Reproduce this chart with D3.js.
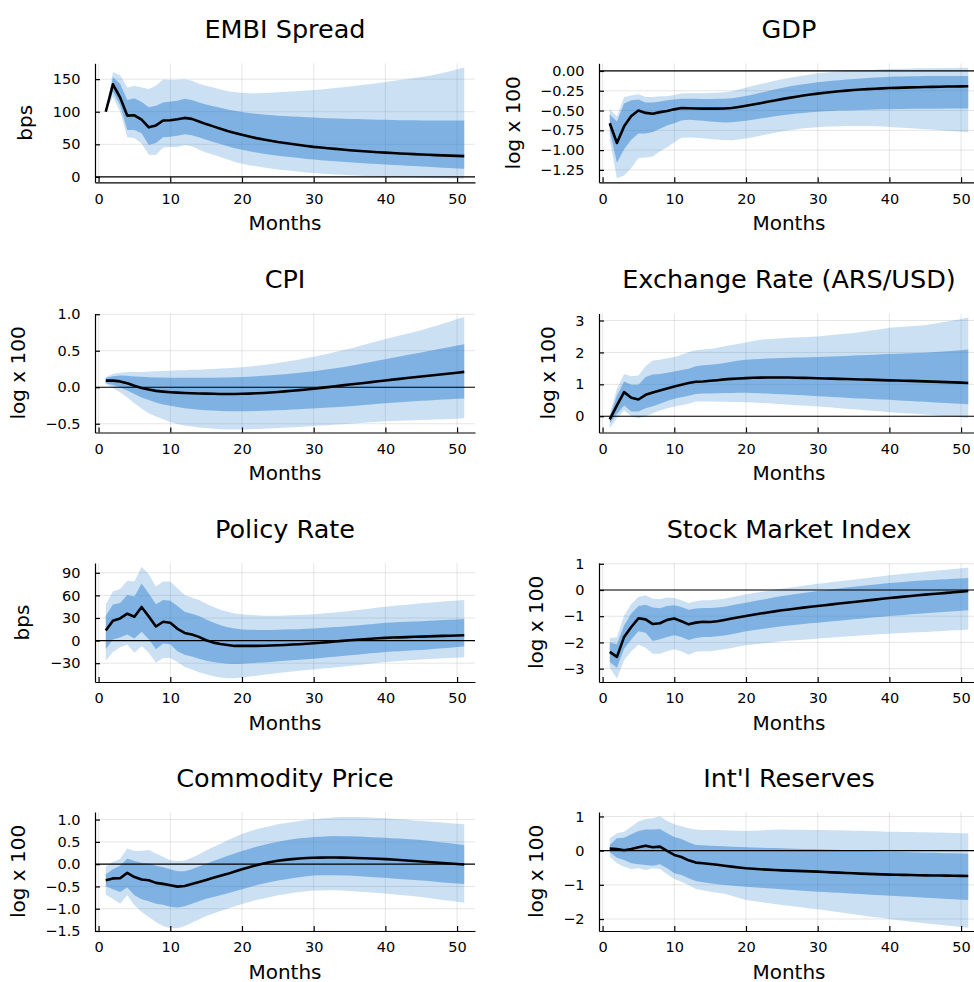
<!DOCTYPE html>
<html>
<head>
<meta charset="utf-8">
<script src="https://cdn.jsdelivr.net/npm/d3@7"></script>
<style>
  html, body { margin: 0; padding: 0; background: #fff; }
  svg { display: block; }
</style>
</head>
<body>
<svg id="chart" width="974" height="982"></svg>
<script>
// Horizon (months after the shock)
const months = [1,2,3,4,5,6,7,8,9,10,11,12,13,14,15,16,17,18,19,20,21,22,23,24,25,26,27,28,29,30,31,32,33,34,35,36,37,38,39,40,41,42,43,44,45,46,47,48,49,50,51];

const titles = ["EMBI Spread", "GDP", "CPI", "Exchange Rate (ARS/USD)", "Policy Rate", "Stock Market Index", "Commodity Price", "Int'l Reserves"];
const yLabels = ["bps", "log x 100", "log x 100", "log x 100", "bps", "log x 100", "log x 100", "log x 100"];
const xLabel = "Months";
const xTickValues = [0, 10, 20, 30, 40, 50];
const yTickValues = [
  [0, 50, 100, 150],
  [-1.25, -1, -0.75, -0.5, -0.25, 0],
  [-0.5, 0, 0.5, 1],
  [0, 1, 2, 3],
  [-30, 0, 30, 60, 90],
  [-3, -2, -1, 0, 1],
  [-1.5, -1, -0.5, 0, 0.5, 1],
  [-2, -1, 0, 1]
];
const yTickDecimals = [0, 2, 1, 0, 0, 0, 1, 0];
const yLimits = [[-8.3, 174.3], [-1.407, 0.097], [-0.62, 1.01], [-0.51, 3.22], [-55, 103], [-3.51, 1.03], [-1.5, 1.17], [-2.35, 1.13]];

// EMBI spread (bps)
const embiMedian = [100,142,122,94,94.5,88,76,79,86.5,87,88.5,90.5,89,85,81,77.5,74,70.5,67.5,64.5,62,59.5,57.5,55.5,53.5,52,50.5,49,47.5,46,45,44,43,42,41,40.2,39.4,38.6,37.9,37.2,36.6,36,35.4,34.9,34.4,33.9,33.4,33,32.6,32.2,31.8];
const embiInnerHigh = [100,153,143,118,120.5,115,107,109,114,115.5,117,120,118,114,111,108.5,106,103.5,101.5,99.5,98,96.8,95.8,94.8,94,93.3,92.7,92.1,91.5,91,90.5,90.1,89.7,89.3,89,88.7,88.4,88.1,87.8,87.5,87.3,87.1,86.9,86.8,86.7,86.6,86.5,86.5,86.4,86.4,86.4];
const embiInnerLow = [100,131,110,72,72,67,49,52,61,61.5,63,65.5,64,61,57,53.5,50.5,47,44,41.5,39.5,37.5,35.7,34,32.5,31.2,30,28.8,27.6,26.5,25.6,24.8,24,23.2,22.4,21.7,21,20.3,19.6,19,18.4,17.8,17.2,16.6,16,15.4,14.8,14.2,13.6,13,12.4];
const embiOuterHigh = [100,161,156,137,140,137,135,140,149.5,148.5,149,150,147.5,143,140,137,134,131.5,130,129,128.5,128.5,128.8,129.3,130,130.6,131.2,131.9,132.5,133.2,134.2,135.3,136.4,137.6,138.8,140,141.3,142.6,144,145.5,147,148.5,150,151.6,153.2,155,157.2,159.6,162.2,165,168];
const embiOuterLow = [100,123,100,61,59.5,51,34,33.5,45,46,46,49,47,41.5,37.5,34,30.5,26.5,23,20,18,16.2,14.5,12.8,11.2,10,8.9,7.8,6.8,5.9,5.1,4.4,3.7,3.1,2.5,2,1.5,1,0.6,0.2,-0.2,-0.5,-0.8,-1.1,-1.4,-1.7,-2,-2.2,-2.4,-2.6,-2.8];

// GDP (log x 100)
const gdpMedian = [-0.66,-0.91,-0.70,-0.57,-0.50,-0.53,-0.54,-0.52,-0.505,-0.485,-0.468,-0.472,-0.475,-0.476,-0.476,-0.476,-0.474,-0.468,-0.455,-0.44,-0.424,-0.407,-0.39,-0.373,-0.356,-0.34,-0.325,-0.311,-0.298,-0.286,-0.275,-0.265,-0.256,-0.248,-0.241,-0.235,-0.229,-0.224,-0.22,-0.216,-0.213,-0.21,-0.207,-0.205,-0.203,-0.201,-0.199,-0.197,-0.196,-0.195,-0.194];
const gdpInnerHigh = [-0.55,-0.64,-0.41,-0.37,-0.36,-0.40,-0.40,-0.385,-0.37,-0.36,-0.35,-0.35,-0.352,-0.353,-0.353,-0.352,-0.35,-0.344,-0.332,-0.316,-0.297,-0.276,-0.255,-0.234,-0.215,-0.197,-0.181,-0.167,-0.155,-0.144,-0.134,-0.125,-0.116,-0.108,-0.1,-0.094,-0.088,-0.083,-0.078,-0.074,-0.071,-0.069,-0.067,-0.066,-0.065,-0.064,-0.064,-0.064,-0.064,-0.064,-0.064];
const gdpInnerLow = [-0.76,-1.16,-0.99,-0.87,-0.79,-0.79,-0.77,-0.73,-0.69,-0.66,-0.625,-0.615,-0.622,-0.63,-0.638,-0.645,-0.65,-0.648,-0.64,-0.63,-0.616,-0.601,-0.587,-0.573,-0.56,-0.549,-0.539,-0.53,-0.522,-0.515,-0.51,-0.505,-0.501,-0.498,-0.495,-0.492,-0.49,-0.487,-0.485,-0.483,-0.481,-0.48,-0.479,-0.478,-0.477,-0.476,-0.476,-0.475,-0.475,-0.475,-0.475];
const gdpOuterHigh = [-0.48,-0.575,-0.33,-0.31,-0.295,-0.33,-0.33,-0.32,-0.32,-0.305,-0.285,-0.28,-0.28,-0.28,-0.279,-0.276,-0.27,-0.255,-0.234,-0.21,-0.188,-0.166,-0.145,-0.125,-0.105,-0.088,-0.072,-0.057,-0.043,-0.03,-0.021,-0.013,-0.006,0.0,0.005,0.009,0.013,0.017,0.021,0.025,0.027,0.029,0.031,0.033,0.035,0.036,0.037,0.038,0.039,0.04,0.04];
const gdpOuterLow = [-0.87,-1.355,-1.32,-1.225,-1.10,-1.095,-1.08,-1.015,-0.965,-0.90,-0.845,-0.84,-0.845,-0.85,-0.86,-0.867,-0.873,-0.875,-0.866,-0.855,-0.837,-0.818,-0.8,-0.782,-0.765,-0.75,-0.737,-0.725,-0.716,-0.71,-0.705,-0.701,-0.698,-0.696,-0.695,-0.695,-0.696,-0.699,-0.703,-0.708,-0.713,-0.718,-0.723,-0.729,-0.735,-0.741,-0.748,-0.755,-0.762,-0.769,-0.776];

// CPI (log x 100)
const cpiMedian = [0.09,0.09,0.08,0.055,0.02,-0.01,-0.03,-0.05,-0.06,-0.068,-0.074,-0.079,-0.083,-0.086,-0.088,-0.09,-0.092,-0.093,-0.092,-0.09,-0.087,-0.083,-0.078,-0.072,-0.065,-0.057,-0.048,-0.039,-0.03,-0.02,-0.009,0.002,0.013,0.025,0.037,0.048,0.059,0.07,0.081,0.093,0.104,0.115,0.126,0.137,0.148,0.158,0.168,0.179,0.189,0.199,0.21];
const cpiInnerHigh = [0.125,0.15,0.16,0.157,0.148,0.143,0.138,0.134,0.132,0.13,0.129,0.129,0.129,0.13,0.13,0.131,0.133,0.135,0.137,0.14,0.145,0.15,0.156,0.163,0.17,0.179,0.188,0.198,0.209,0.22,0.233,0.246,0.26,0.275,0.29,0.308,0.327,0.346,0.365,0.385,0.403,0.421,0.44,0.458,0.477,0.496,0.514,0.533,0.552,0.571,0.59];
const cpiInnerLow = [0.055,0.03,-0.005,-0.046,-0.093,-0.14,-0.176,-0.21,-0.235,-0.255,-0.272,-0.287,-0.299,-0.308,-0.315,-0.32,-0.325,-0.328,-0.33,-0.33,-0.329,-0.327,-0.323,-0.319,-0.315,-0.311,-0.306,-0.3,-0.295,-0.29,-0.285,-0.279,-0.273,-0.267,-0.26,-0.252,-0.243,-0.235,-0.226,-0.218,-0.211,-0.205,-0.198,-0.192,-0.185,-0.18,-0.174,-0.169,-0.163,-0.158,-0.153];
const cpiOuterHigh = [0.14,0.185,0.2,0.21,0.21,0.21,0.215,0.22,0.223,0.227,0.231,0.234,0.238,0.241,0.245,0.25,0.255,0.261,0.267,0.273,0.283,0.294,0.306,0.319,0.333,0.348,0.364,0.381,0.399,0.417,0.438,0.46,0.482,0.505,0.528,0.554,0.581,0.608,0.635,0.662,0.686,0.709,0.733,0.756,0.78,0.81,0.84,0.871,0.902,0.933,0.963];
const cpiOuterLow = [0.046,-0.01,-0.07,-0.14,-0.218,-0.29,-0.356,-0.4,-0.44,-0.477,-0.502,-0.523,-0.538,-0.55,-0.56,-0.568,-0.575,-0.58,-0.58,-0.58,-0.577,-0.573,-0.569,-0.564,-0.56,-0.555,-0.549,-0.543,-0.538,-0.532,-0.525,-0.519,-0.512,-0.506,-0.5,-0.493,-0.487,-0.48,-0.473,-0.467,-0.463,-0.46,-0.456,-0.453,-0.45,-0.446,-0.442,-0.438,-0.434,-0.43,-0.426];

// Exchange rate ARS/USD (log x 100)
const fxMedian = [-0.1,0.34,0.755,0.58,0.525,0.67,0.745,0.81,0.87,0.935,0.985,1.04,1.08,1.09,1.11,1.13,1.155,1.17,1.185,1.195,1.205,1.21,1.215,1.215,1.215,1.212,1.208,1.203,1.197,1.19,1.184,1.178,1.172,1.166,1.16,1.153,1.146,1.139,1.132,1.125,1.119,1.113,1.107,1.1,1.093,1.085,1.077,1.069,1.061,1.052,1.043];
const fxInnerHigh = [-0.02,0.65,1.09,0.985,0.985,1.23,1.31,1.32,1.36,1.405,1.45,1.49,1.57,1.6,1.615,1.64,1.67,1.71,1.745,1.77,1.785,1.797,1.806,1.815,1.825,1.831,1.837,1.843,1.849,1.855,1.864,1.873,1.882,1.891,1.9,1.91,1.92,1.93,1.94,1.95,1.958,1.966,1.974,1.982,1.99,2.005,2.02,2.035,2.05,2.07,2.09];
const fxInnerLow = [-0.22,0.07,0.335,0.147,0.147,0.25,0.315,0.39,0.48,0.545,0.595,0.64,0.70,0.71,0.715,0.72,0.725,0.73,0.733,0.735,0.727,0.718,0.709,0.7,0.69,0.678,0.666,0.654,0.642,0.63,0.617,0.605,0.592,0.58,0.567,0.556,0.546,0.535,0.525,0.514,0.501,0.488,0.476,0.463,0.45,0.438,0.426,0.414,0.402,0.39,0.378];
const fxOuterHigh = [0.07,0.86,1.32,1.25,1.28,1.57,1.75,1.77,1.815,1.857,1.93,2.01,2.067,2.09,2.11,2.15,2.19,2.23,2.27,2.31,2.355,2.40,2.415,2.43,2.445,2.456,2.467,2.478,2.489,2.5,2.522,2.544,2.566,2.588,2.61,2.642,2.674,2.706,2.738,2.77,2.786,2.802,2.818,2.834,2.85,2.89,2.93,2.97,3.01,3.05,3.095];
const fxOuterLow = [-0.38,-0.06,0.18,0.0,-0.063,0.0,0.094,0.18,0.25,0.304,0.347,0.39,0.46,0.46,0.46,0.456,0.452,0.448,0.444,0.44,0.428,0.415,0.403,0.39,0.378,0.363,0.348,0.334,0.319,0.304,0.287,0.271,0.254,0.237,0.22,0.201,0.182,0.164,0.145,0.126,0.111,0.096,0.082,0.067,0.052,0.035,0.018,0.0,-0.017,-0.035,-0.052];

// Policy rate (bps)
const rateMedian = [13.4,26.3,29.4,35.7,31.6,44.6,32,18.7,25,23.6,15.6,10.2,8,4.9,0.4,-2.7,-4.5,-5.8,-7.1,-7.1,-7.1,-7,-6.8,-6.5,-6.2,-5.8,-5.3,-4.8,-4.2,-3.6,-2.8,-2,-1.2,-0.4,0.4,1.1,1.8,2.4,3,3.6,4,4.3,4.6,5,5.3,5.6,5.9,6.2,6.5,6.8,7.1];
const rateInnerHigh = [33,48,50,60.6,58.4,75.8,62.4,48.1,54,53,45.9,38.3,35.7,32.5,28,24,20.5,17.8,16,14.7,14.4,14.2,14.1,14.2,14.3,14.6,14.9,15.2,15.6,16,16.6,17.2,17.9,18.5,19.2,20,20.9,21.8,22.7,23.6,24,24.5,24.9,25.4,25.8,26.3,26.7,27.2,27.6,28.1,28.5];
const rateInnerLow = [-11.6,1.3,4,8,2.7,11.6,1.8,-11.6,-4,-4.9,-14.3,-18.7,-21,-24,-26.7,-28.5,-29.9,-30.7,-31.2,-30.7,-30.2,-29.6,-29,-28.3,-27.6,-26.9,-26.2,-25.5,-24.8,-24,-23.1,-22.2,-21.4,-20.5,-19.6,-18.7,-17.8,-16.9,-16,-15.2,-14.6,-14.1,-13.6,-13,-12.5,-11.8,-11,-10.2,-9.4,-8.6,-7.8];
const rateOuterHigh = [48,65,68.6,79.3,78.4,98,88.2,71.7,78.4,78.4,69.5,60.6,57,54,49,44.6,41,38.3,36,34.8,34,33.5,33.1,33,33,33.2,33.5,33.9,34.3,34.8,35.6,36.5,37.4,38.3,39.2,40.3,41.5,42.7,43.8,45,45.9,46.8,47.7,48.6,49.5,50.3,51,51.8,52.5,53.2,54];
const rateOuterLow = [-26.7,-15.2,-8.9,-5.3,-16,-7.1,-16,-29.4,-23.2,-23.2,-28.5,-35.2,-38.3,-41.9,-44.6,-47.2,-49,-49.9,-49.9,-49,-47.8,-46.7,-45.5,-44.3,-43.2,-42.2,-41.2,-40.2,-39.2,-38.3,-37.4,-36.5,-35.6,-34.8,-33.9,-32.8,-31.7,-30.6,-29.5,-28.5,-27.8,-27.1,-26.4,-25.7,-25,-24.5,-24.1,-23.6,-23.2,-22.7,-22.3];

// Stock market index (log x 100)
const stockMedian = [-2.36,-2.55,-1.79,-1.41,-1.08,-1.12,-1.30,-1.27,-1.14,-1.09,-1.19,-1.31,-1.245,-1.21,-1.22,-1.195,-1.145,-1.09,-1.04,-0.99,-0.945,-0.9,-0.857,-0.815,-0.775,-0.741,-0.707,-0.674,-0.642,-0.61,-0.579,-0.549,-0.518,-0.488,-0.458,-0.427,-0.397,-0.366,-0.336,-0.305,-0.28,-0.254,-0.229,-0.203,-0.178,-0.155,-0.132,-0.109,-0.086,-0.063,-0.04];
const stockInnerHigh = [-2.0,-2.07,-1.35,-0.9,-0.61,-0.56,-0.67,-0.70,-0.61,-0.585,-0.65,-0.75,-0.71,-0.69,-0.69,-0.665,-0.635,-0.585,-0.534,-0.483,-0.432,-0.381,-0.33,-0.28,-0.229,-0.191,-0.153,-0.114,-0.076,-0.038,-0.005,0.028,0.061,0.094,0.127,0.155,0.183,0.211,0.239,0.267,0.288,0.308,0.329,0.349,0.37,0.385,0.399,0.414,0.429,0.443,0.458];
const stockInnerLow = [-2.75,-2.97,-2.24,-1.89,-1.575,-1.63,-1.945,-1.88,-1.79,-1.73,-1.79,-1.91,-1.83,-1.79,-1.79,-1.765,-1.74,-1.685,-1.63,-1.575,-1.537,-1.499,-1.461,-1.423,-1.385,-1.357,-1.329,-1.301,-1.273,-1.245,-1.22,-1.195,-1.17,-1.145,-1.12,-1.094,-1.068,-1.042,-1.016,-0.99,-0.97,-0.95,-0.93,-0.91,-0.89,-0.871,-0.852,-0.833,-0.814,-0.795,-0.775];
const stockOuterHigh = [-1.83,-1.80,-0.97,-0.53,-0.27,-0.2,-0.33,-0.356,-0.29,-0.305,-0.394,-0.496,-0.43,-0.394,-0.394,-0.362,-0.33,-0.275,-0.22,-0.165,-0.122,-0.079,-0.036,0.007,0.05,0.088,0.126,0.164,0.202,0.24,0.271,0.302,0.332,0.363,0.394,0.427,0.46,0.494,0.527,0.56,0.588,0.616,0.644,0.672,0.70,0.725,0.75,0.775,0.8,0.825,0.85];
const stockOuterLow = [-2.97,-3.38,-2.68,-2.34,-2.085,-2.2,-2.43,-2.43,-2.34,-2.26,-2.34,-2.47,-2.36,-2.34,-2.34,-2.3,-2.26,-2.21,-2.16,-2.11,-2.08,-2.05,-2.02,-1.99,-1.96,-1.939,-1.918,-1.897,-1.876,-1.855,-1.835,-1.815,-1.795,-1.775,-1.755,-1.737,-1.719,-1.701,-1.683,-1.665,-1.652,-1.639,-1.626,-1.613,-1.6,-1.585,-1.57,-1.555,-1.54,-1.525,-1.51];

// Commodity price (log x 100)
const commodityMedian = [-0.36,-0.32,-0.315,-0.195,-0.29,-0.346,-0.36,-0.42,-0.443,-0.474,-0.504,-0.489,-0.443,-0.4,-0.353,-0.308,-0.263,-0.218,-0.165,-0.113,-0.068,-0.023,0.015,0.046,0.075,0.096,0.113,0.128,0.137,0.143,0.147,0.149,0.15,0.147,0.143,0.138,0.132,0.126,0.12,0.113,0.103,0.092,0.081,0.071,0.06,0.048,0.036,0.025,0.013,0.002,-0.008];
const commodityInnerHigh = [-0.233,-0.113,-0.038,0.128,0.068,0.03,0.015,-0.038,-0.068,-0.113,-0.158,-0.158,-0.113,-0.053,0.008,0.068,0.128,0.188,0.24,0.293,0.342,0.39,0.43,0.468,0.504,0.53,0.556,0.579,0.595,0.609,0.617,0.625,0.632,0.628,0.624,0.618,0.612,0.606,0.6,0.594,0.583,0.573,0.562,0.552,0.541,0.523,0.504,0.486,0.467,0.449,0.43];
const commodityInnerLow = [-0.496,-0.564,-0.624,-0.526,-0.7,-0.79,-0.835,-0.887,-0.91,-0.955,-0.97,-0.947,-0.887,-0.835,-0.774,-0.737,-0.7,-0.654,-0.609,-0.564,-0.519,-0.474,-0.437,-0.402,-0.368,-0.342,-0.317,-0.293,-0.274,-0.256,-0.251,-0.249,-0.248,-0.252,-0.256,-0.266,-0.277,-0.287,-0.298,-0.308,-0.32,-0.332,-0.344,-0.356,-0.368,-0.38,-0.395,-0.41,-0.422,-0.432,-0.443];
const commodityOuterHigh = [-0.06,0.053,0.113,0.353,0.293,0.30,0.316,0.24,0.165,0.09,0.068,0.083,0.143,0.218,0.308,0.383,0.459,0.534,0.609,0.677,0.73,0.782,0.82,0.858,0.895,0.92,0.945,0.97,0.99,1.008,1.023,1.038,1.053,1.057,1.06,1.056,1.05,1.044,1.037,1.03,1.018,1.006,0.994,0.982,0.97,0.957,0.945,0.932,0.92,0.907,0.895];
const commodityOuterLow = [-0.684,-0.774,-0.887,-0.7,-0.925,-1.075,-1.188,-1.3,-1.39,-1.436,-1.436,-1.39,-1.316,-1.24,-1.165,-1.105,-1.053,-1.0,-0.947,-0.895,-0.85,-0.805,-0.77,-0.735,-0.7,-0.673,-0.648,-0.624,-0.607,-0.594,-0.59,-0.588,-0.586,-0.593,-0.6,-0.612,-0.624,-0.636,-0.648,-0.66,-0.675,-0.691,-0.706,-0.722,-0.737,-0.758,-0.78,-0.802,-0.823,-0.844,-0.865];

// International reserves (log x 100)
const reservesMedian = [0.06,0.05,0.01,0.05,0.1,0.146,0.1,0.117,-0.01,-0.127,-0.185,-0.283,-0.35,-0.37,-0.39,-0.415,-0.44,-0.468,-0.494,-0.517,-0.531,-0.544,-0.555,-0.566,-0.576,-0.584,-0.592,-0.6,-0.607,-0.615,-0.625,-0.635,-0.644,-0.654,-0.663,-0.671,-0.679,-0.687,-0.694,-0.702,-0.706,-0.71,-0.714,-0.718,-0.722,-0.725,-0.728,-0.732,-0.735,-0.738,-0.741];
const reservesInnerHigh = [0.166,0.36,0.38,0.478,0.576,0.615,0.615,0.634,0.507,0.4,0.341,0.244,0.166,0.156,0.146,0.137,0.127,0.117,0.108,0.098,0.092,0.086,0.08,0.074,0.068,0.062,0.056,0.05,0.045,0.039,0.031,0.023,0.016,0.008,0.0,-0.006,-0.012,-0.018,-0.024,-0.03,-0.036,-0.042,-0.047,-0.053,-0.059,-0.064,-0.069,-0.074,-0.078,-0.083,-0.088];
const reservesInnerLow = [-0.05,-0.205,-0.273,-0.37,-0.4,-0.42,-0.44,-0.4,-0.517,-0.663,-0.712,-0.81,-0.888,-0.927,-0.956,-0.98,-1.005,-1.022,-1.038,-1.054,-1.07,-1.085,-1.101,-1.116,-1.132,-1.146,-1.159,-1.173,-1.186,-1.2,-1.212,-1.224,-1.235,-1.247,-1.259,-1.271,-1.282,-1.294,-1.305,-1.317,-1.329,-1.341,-1.352,-1.364,-1.376,-1.388,-1.399,-1.411,-1.422,-1.433,-1.444];
const reservesOuterHigh = [0.36,0.507,0.556,0.702,0.849,0.927,0.946,1.005,0.868,0.77,0.712,0.654,0.615,0.605,0.605,0.6,0.595,0.588,0.582,0.576,0.584,0.592,0.6,0.608,0.615,0.613,0.611,0.609,0.607,0.605,0.601,0.597,0.593,0.589,0.585,0.579,0.573,0.567,0.562,0.556,0.552,0.548,0.545,0.541,0.537,0.532,0.527,0.522,0.517,0.512,0.507];
const reservesOuterLow = [-0.176,-0.37,-0.468,-0.537,-0.517,-0.566,-0.517,-0.537,-0.693,-0.83,-0.907,-1.005,-1.122,-1.161,-1.2,-1.23,-1.259,-1.321,-1.383,-1.444,-1.473,-1.502,-1.532,-1.561,-1.59,-1.615,-1.641,-1.666,-1.692,-1.717,-1.746,-1.775,-1.805,-1.834,-1.863,-1.89,-1.918,-1.945,-1.973,-2.0,-2.025,-2.051,-2.076,-2.102,-2.127,-2.148,-2.169,-2.19,-2.212,-2.233,-2.254];

// One entry per panel, in reading order (left to right, top to bottom)
const panelSeries = [
  [embiMedian, embiInnerLow, embiInnerHigh, embiOuterLow, embiOuterHigh],
  [gdpMedian, gdpInnerLow, gdpInnerHigh, gdpOuterLow, gdpOuterHigh],
  [cpiMedian, cpiInnerLow, cpiInnerHigh, cpiOuterLow, cpiOuterHigh],
  [fxMedian, fxInnerLow, fxInnerHigh, fxOuterLow, fxOuterHigh],
  [rateMedian, rateInnerLow, rateInnerHigh, rateOuterLow, rateOuterHigh],
  [stockMedian, stockInnerLow, stockInnerHigh, stockOuterLow, stockOuterHigh],
  [commodityMedian, commodityInnerLow, commodityInnerHigh, commodityOuterLow, commodityOuterHigh],
  [reservesMedian, reservesInnerLow, reservesInnerHigh, reservesOuterLow, reservesOuterHigh]
];

// ---- layout and style ----
const FONT = "'DejaVu Sans', sans-serif";
const colLeft = [95, 599];
const rowTop = [63.3, 313.5, 563, 812];
const plotW = 380, plotH = 119;
const xLimits = [-0.5, 52.5];
const bandColor = "rgb(30,120,205)";
const tickFont = 14.5, guideFont = 20, titleFont = 25.5;

const fmtTick = (v, d) => v.toFixed(d).replace("-", "\u2212");

const svg = d3.select("#chart");
svg.append("rect").attr("width", 974).attr("height", 982).attr("fill", "#fff");

panelSeries.forEach((series, i) => {
  const [med, innerLo, innerHi, outerLo, outerHi] = series;
  const left = colLeft[i % 2];
  const top = rowTop[Math.floor(i / 2)];
  const bottom = top + plotH;

  const x = d3.scaleLinear().domain(xLimits).range([left, left + plotW]);
  const y = d3.scaleLinear().domain(yLimits[i]).range([bottom, top]);

  const g = svg.append("g").attr("font-family", FONT);

  // grid
  g.append("g").selectAll("line").data(xTickValues).join("line")
    .attr("x1", d => x(d)).attr("x2", d => x(d))
    .attr("y1", top).attr("y2", bottom)
    .attr("stroke", "#000").attr("stroke-opacity", 0.1).attr("stroke-width", 1);
  g.append("g").selectAll("line").data(yTickValues[i]).join("line")
    .attr("x1", left).attr("x2", left + plotW)
    .attr("y1", d => y(d)).attr("y2", d => y(d))
    .attr("stroke", "#000").attr("stroke-opacity", 0.1).attr("stroke-width", 1);

  const rows = months.map((m, k) => ({
    m, med: med[k], iLo: innerLo[k], iHi: innerHi[k], oLo: outerLo[k], oHi: outerHi[k]
  }));
  const band = (lo, hi) => d3.area().x(d => x(d.m)).y0(d => y(d[lo])).y1(d => y(d[hi]));

  // outer and inner credible bands
  g.append("path").datum(rows).attr("d", band("oLo", "oHi"))
    .attr("fill", bandColor).attr("fill-opacity", 0.23);
  g.append("path").datum(rows).attr("d", band("iLo", "iHi"))
    .attr("fill", bandColor).attr("fill-opacity", 0.434);

  // zero reference line
  g.append("line")
    .attr("x1", left).attr("x2", left + plotW)
    .attr("y1", y(0)).attr("y2", y(0))
    .attr("stroke", "#000").attr("stroke-width", 1.2);

  // median response
  g.append("path").datum(rows)
    .attr("d", d3.line().x(d => x(d.m)).y(d => y(d.med)))
    .attr("fill", "none").attr("stroke", "#000")
    .attr("stroke-width", 2.6).attr("stroke-linejoin", "round");

  // axes
  const xAxis = d3.axisBottom(x).tickValues(xTickValues)
    .tickSize(-5).tickSizeOuter(0).tickPadding(11)
    .tickFormat(d => fmtTick(d, 0));
  const yAxis = d3.axisLeft(y).tickValues(yTickValues[i])
    .tickSize(-5).tickSizeOuter(0).tickPadding(14.5)
    .tickFormat(d => fmtTick(d, yTickDecimals[i]));
  const gx = g.append("g").attr("transform", `translate(0,${bottom})`).call(xAxis);
  const gy = g.append("g").attr("transform", `translate(${left},0)`).call(yAxis);
  [gx, gy].forEach(a => {
    a.attr("font-family", FONT).attr("font-size", tickFont);
    a.select(".domain").attr("stroke", "#000").attr("stroke-width", 1.2);
    a.selectAll(".tick line").attr("stroke", "#000").attr("stroke-width", 1.2);
    a.selectAll(".tick text").attr("fill", "#000");
  });

  // title
  g.append("text")
    .attr("x", left + plotW / 2).attr("y", top - 25.5)
    .attr("text-anchor", "middle").attr("font-size", titleFont).attr("fill", "#000")
    .text(titles[i]);

  // x guide
  g.append("text")
    .attr("x", left + plotW / 2).attr("y", bottom + 47.5)
    .attr("text-anchor", "middle").attr("font-size", guideFont).attr("fill", "#000")
    .text(xLabel);

  // y guide, placed just outside the widest tick label
  const maxTickW = d3.max(gy.selectAll(".tick text").nodes(), n => n.getComputedTextLength());
  g.append("text")
    .attr("transform", `translate(${left - maxTickW - 35},${top + plotH / 2}) rotate(-90)`)
    .attr("text-anchor", "middle").attr("font-size", guideFont).attr("fill", "#000")
    .text(yLabels[i]);
});
</script>
</body>
</html>
